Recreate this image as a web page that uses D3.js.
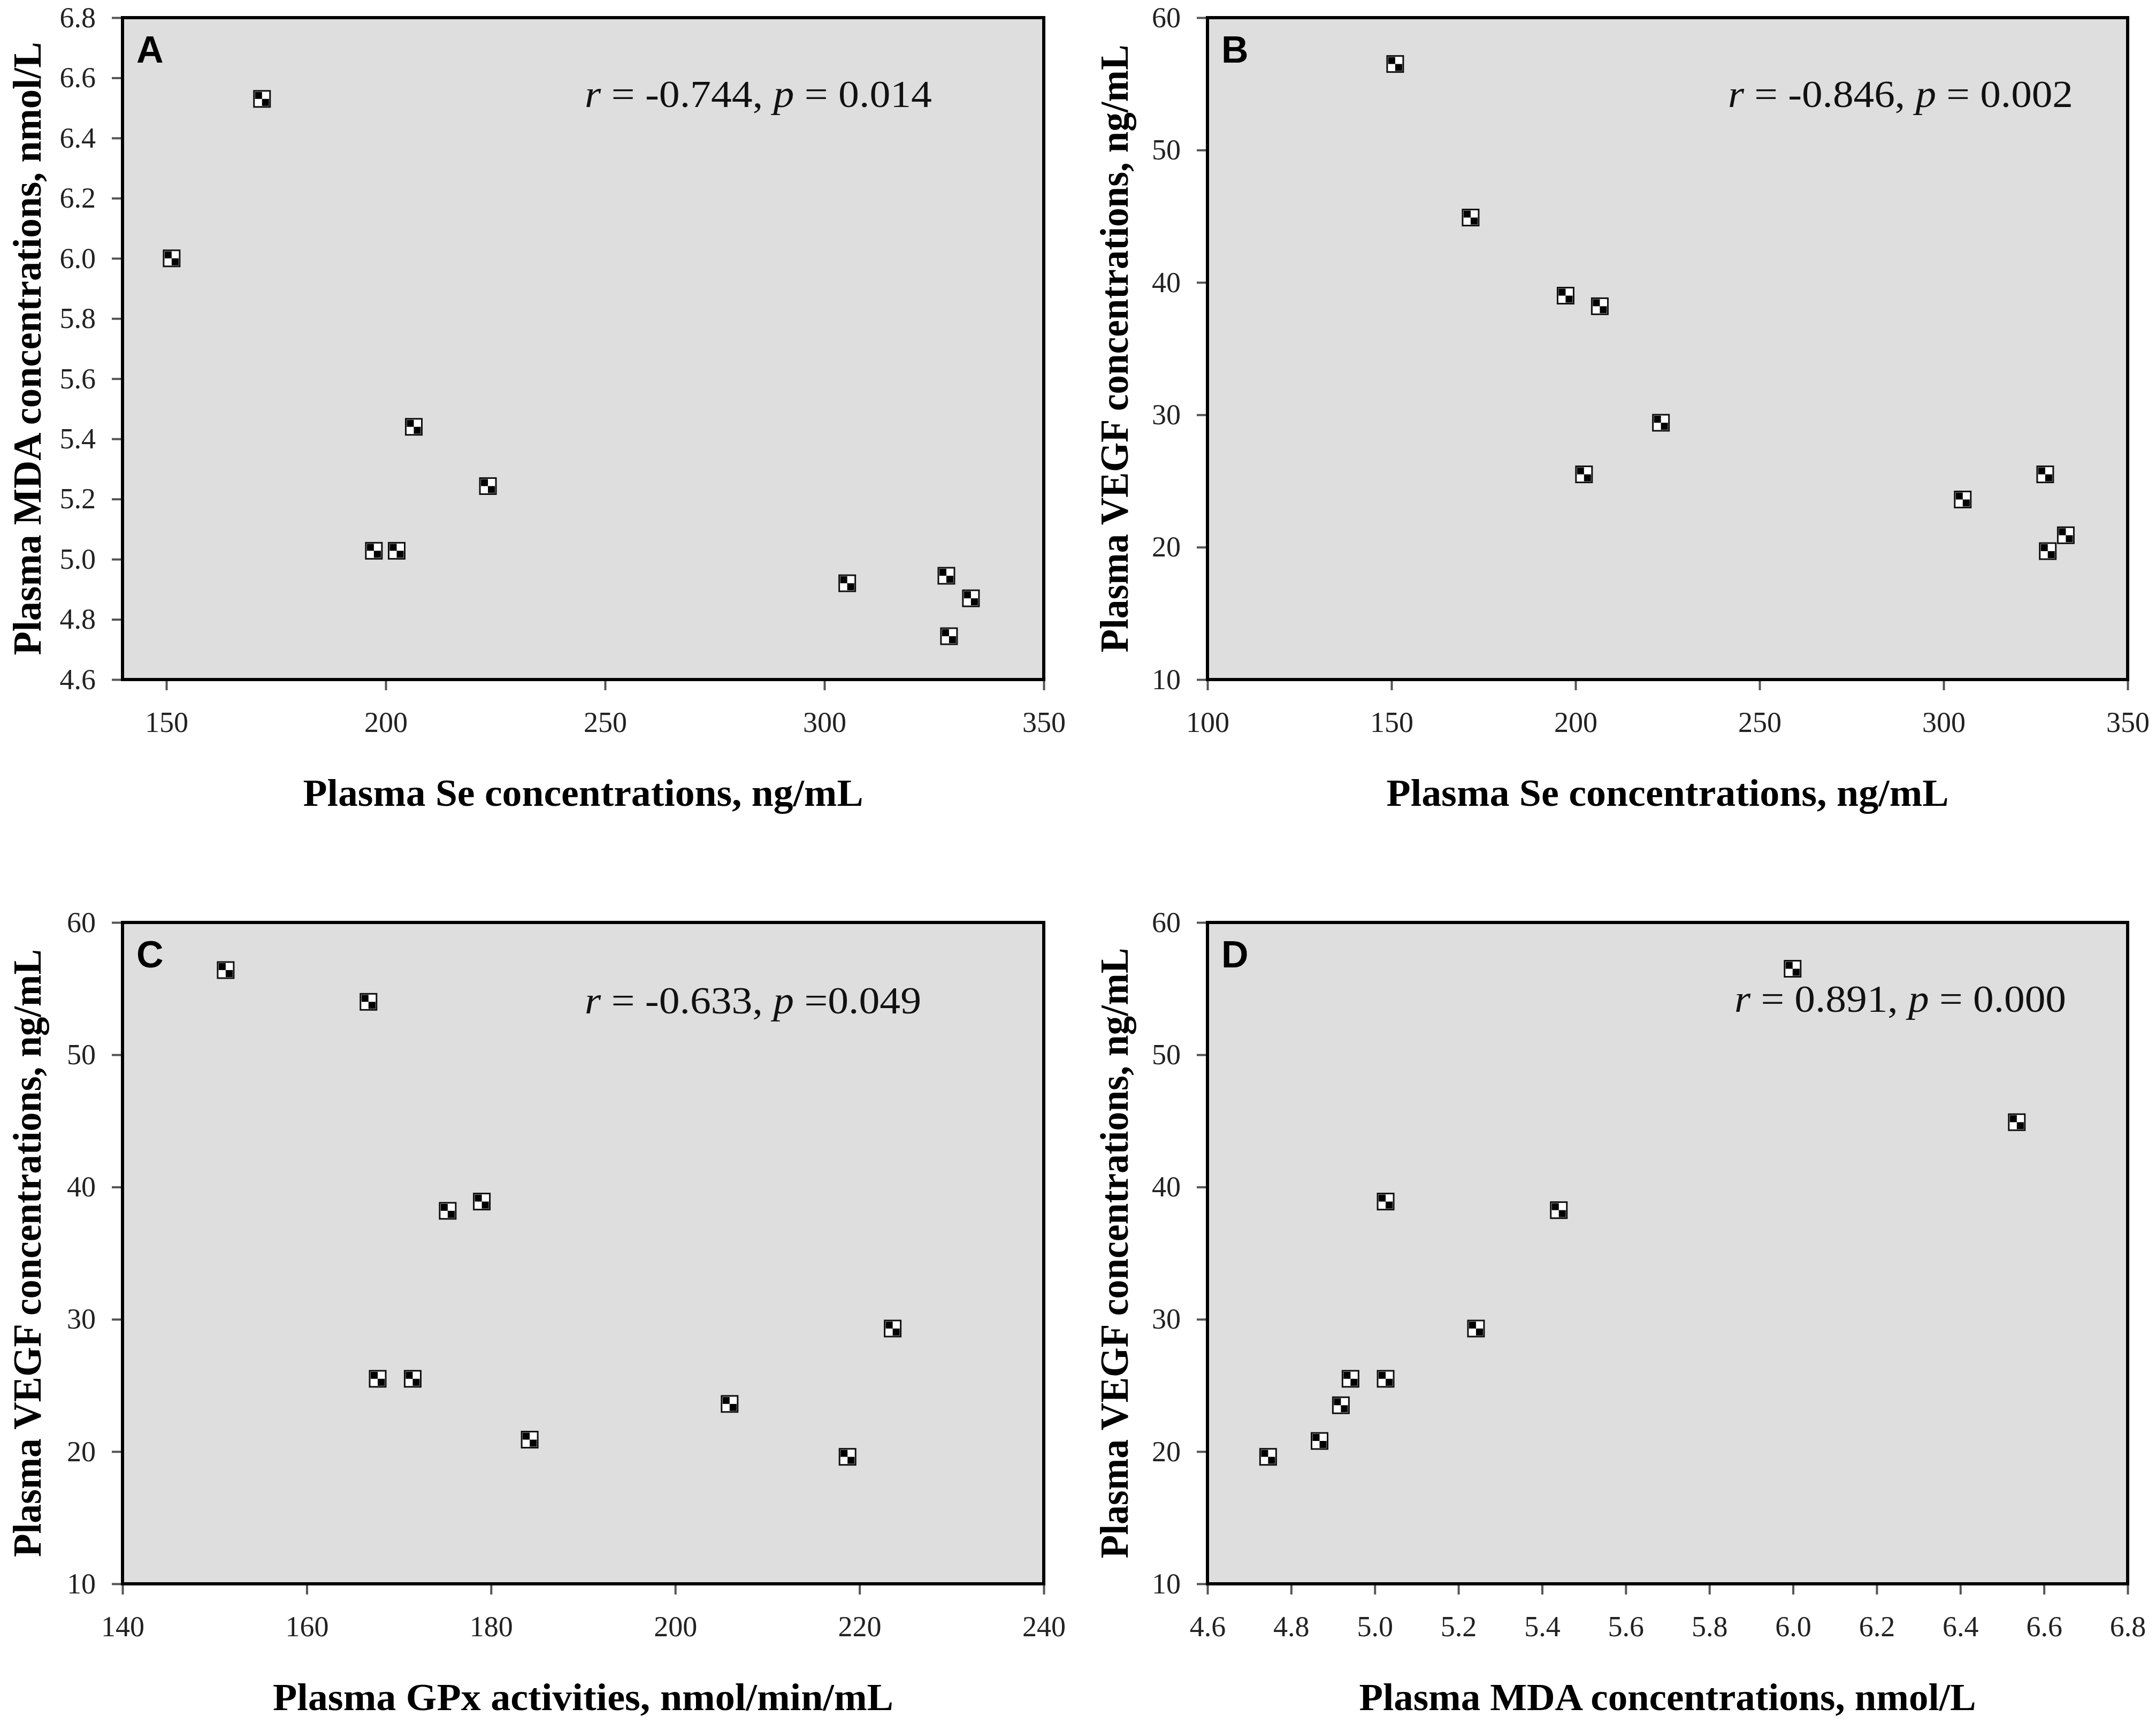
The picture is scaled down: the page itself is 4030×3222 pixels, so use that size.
<!DOCTYPE html>
<html>
<head>
<meta charset="utf-8">
<script src="https://cdnjs.cloudflare.com/ajax/libs/d3/7.8.5/d3.min.js"></script>
<style>
  body { margin: 0; background: #fff; }
  .tick text { font-family: "Liberation Serif", serif; font-size: 54px; fill: #222; }
  .tick line { stroke: #555; stroke-width: 4; }
</style>
</head>
<body>
<svg width="4030" height="3222"></svg>
<script>
// values
var seA   = [171.8, 151.2, 206.4, 223.3, 197.3, 202.5, 305.2, 327.8, 333.4, 328.4];
var mdaA  = [6.53, 6.00, 5.44, 5.243, 5.028, 5.028, 4.92, 4.945, 4.87, 4.744];

var seB   = [151.0, 171.5, 197.3, 206.6, 223.2, 202.3, 305.2, 327.6, 333.2, 328.3];
var vegfB = [56.5, 44.9, 39.0, 38.2, 29.4, 25.5, 23.6, 25.5, 20.9, 19.7];

var gpxC  = [151.2, 166.7, 175.3, 179.0, 167.7, 171.5, 184.2, 205.9, 218.7, 223.6];
var vegfC = [56.4, 54.0, 38.2, 38.9, 25.5, 25.5, 20.9, 23.6, 19.6, 29.3];

var mdaD  = [4.745, 4.868, 4.919, 4.942, 5.026, 5.026, 5.242, 5.44, 5.999, 6.535];
var vegfD = [19.6, 20.8, 23.5, 25.5, 25.5, 38.9, 29.3, 38.25, 56.5, 44.9];

var ticksSe   = [150, 200, 250, 300, 350];
var ticksSeB  = [100, 150, 200, 250, 300, 350];
var ticksGpx  = [140, 160, 180, 200, 220, 240];
var ticksMda  = [4.6, 4.8, 5.0, 5.2, 5.4, 5.6, 5.8, 6.0, 6.2, 6.4, 6.6, 6.8];
var ticksVegf = [10, 20, 30, 40, 50, 60];

var svg = d3.select("svg");
svg.append("rect").attr("width", 4030).attr("height", 3222).attr("fill", "#fff");

var panels = [
  { letter: "A", x: seA, y: mdaA, xDom: [140, 350], yDom: [4.6, 6.8], xTicks: ticksSe, yTicks: ticksMda,
    xFmt: d3.format("d"), yFmt: d3.format(".1f"),
    left: 229, right: 1951, top: 33, bottom: 1270,
    xTitle: "Plasma Se concentrations, ng/mL", xTitleLen: 1047,
    yTitle: "Plasma MDA concentrations, nmol/L", yTitleLen: 1146, yTitleX: 76,
    stat: ["r", " = -0.744, ", "p", " = 0.014"], statX: 1093, statY: 200, statLen: 649 },
  { letter: "B", x: seB, y: vegfB, xDom: [100, 350], yDom: [10, 60], xTicks: ticksSeB, yTicks: ticksVegf,
    xFmt: d3.format("d"), yFmt: d3.format("d"),
    left: 2257, right: 3977, top: 33, bottom: 1270,
    xTitle: "Plasma Se concentrations, ng/mL", xTitleLen: 1051,
    yTitle: "Plasma VEGF concentrations, ng/mL", yTitleLen: 1136, yTitleX: 2108,
    stat: ["r", " = -0.846, ", "p", " = 0.002"], statX: 3230, statY: 200, statLen: 645 },
  { letter: "C", x: gpxC, y: vegfC, xDom: [140, 240], yDom: [10, 60], xTicks: ticksGpx, yTicks: ticksVegf,
    xFmt: d3.format("d"), yFmt: d3.format("d"),
    left: 229, right: 1951, top: 1724, bottom: 2960,
    xTitle: "Plasma GPx activities, nmol/min/mL", xTitleLen: 1160,
    yTitle: "Plasma VEGF concentrations, ng/mL", yTitleLen: 1136, yTitleX: 76,
    stat: ["r", " = -0.633, ", "p", " =0.049"], statX: 1093, statY: 1894, statLen: 629 },
  { letter: "D", x: mdaD, y: vegfD, xDom: [4.6, 6.8], yDom: [10, 60], xTicks: ticksMda, yTicks: ticksVegf,
    xFmt: d3.format(".1f"), yFmt: d3.format("d"),
    left: 2257, right: 3977, top: 1724, bottom: 2960,
    xTitle: "Plasma MDA concentrations, nmol/L", xTitleLen: 1153,
    yTitle: "Plasma VEGF concentrations, ng/mL", yTitleLen: 1141, yTitleX: 2108,
    stat: ["r", " = 0.891, ", "p", " = 0.000"], statX: 3242, statY: 1891, statLen: 620 }
];

panels.forEach(function(p) {
  var w = p.right - p.left, h = p.bottom - p.top;
  var x = d3.scaleLinear().domain(p.xDom).range([0, w]);
  var y = d3.scaleLinear().domain(p.yDom).range([h, 0]);
  var g = svg.append("g").attr("transform", "translate(" + p.left + "," + p.top + ")");

  g.append("rect")
    .attr("width", w).attr("height", h)
    .attr("fill", "#dedede");

  var ax = g.append("g")
    .attr("transform", "translate(0," + h + ")")
    .call(d3.axisBottom(x).tickValues(p.xTicks).tickFormat(p.xFmt)
      .tickSizeInner(20).tickSizeOuter(0).tickPadding(40));
  var ay = g.append("g")
    .call(d3.axisLeft(y).tickValues(p.yTicks).tickFormat(p.yFmt)
      .tickSizeInner(20).tickSizeOuter(0).tickPadding(30));
  ax.select(".domain").remove();
  ay.select(".domain").remove();

  g.append("rect")
    .attr("width", w).attr("height", h)
    .attr("fill", "none").attr("stroke", "#000").attr("stroke-width", 6);

  // markers: white square, black outline, black top-left and bottom-right quarters
  var pts = p.x.map(function(v, i) { return { x: v, y: p.y[i] }; });
  var m = g.selectAll("g.pt").data(pts).enter().append("g")
    .attr("class", "pt")
    .attr("transform", function(d) { return "translate(" + x(d.x) + "," + y(d.y) + ")"; });
  m.append("rect").attr("x", -15).attr("y", -15).attr("width", 30).attr("height", 30)
    .attr("fill", "#fff").attr("stroke", "#111").attr("stroke-width", 3);
  m.append("rect").attr("x", -13).attr("y", -13).attr("width", 13).attr("height", 13).attr("fill", "#000");
  m.append("rect").attr("x", 0).attr("y", 0).attr("width", 13).attr("height", 13).attr("fill", "#000");

  g.append("text")
    .attr("x", 26).attr("y", 84)
    .style("font-family", "'Liberation Sans', Arial, sans-serif")
    .style("font-weight", "bold").style("font-size", "70px")
    .text(p.letter);

  var st = svg.append("text")
    .attr("x", p.statX).attr("y", p.statY)
    .attr("textLength", p.statLen).attr("lengthAdjust", "spacingAndGlyphs")
    .style("font-family", "'Liberation Serif', serif").style("font-size", "72px")
    .attr("fill", "#111");
  p.stat.forEach(function(s, i) {
    st.append("tspan").style("font-style", i % 2 === 0 ? "italic" : "normal").text(s);
  });

  svg.append("text")
    .attr("x", (p.left + p.right) / 2).attr("y", p.bottom + 236)
    .attr("text-anchor", "middle")
    .attr("textLength", p.xTitleLen).attr("lengthAdjust", "spacingAndGlyphs")
    .style("font-family", "'Liberation Serif', serif").style("font-weight", "bold").style("font-size", "72px")
    .text(p.xTitle);

  svg.append("text")
    .attr("transform", "translate(" + p.yTitleX + "," + (p.top + h / 2) + ") rotate(-90)")
    .attr("text-anchor", "middle")
    .attr("textLength", p.yTitleLen).attr("lengthAdjust", "spacingAndGlyphs")
    .style("font-family", "'Liberation Serif', serif").style("font-weight", "bold").style("font-size", "74px")
    .text(p.yTitle);
});
</script>
</body>
</html>
